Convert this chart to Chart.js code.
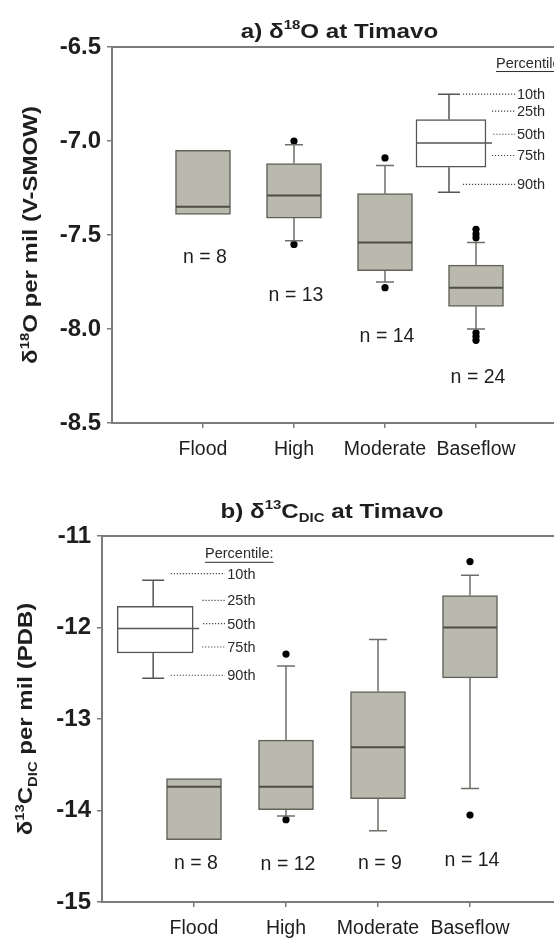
<!DOCTYPE html>
<html>
<head>
<meta charset="utf-8">
<script src="https://cdn.jsdelivr.net/npm/chart.js@4.4.0/dist/chart.umd.min.js"></script>
<style>
html, body { margin: 0; padding: 0; background: #fff; overflow: hidden; width: 554px; height: 938px; }
#wrapA { position: absolute; left: 0; top: 0; }
#wrapB { position: absolute; left: 0; top: 470px; }
</style>
</head>
<body>
<div id="wrapA"><canvas id="chartA" width="575" height="470"></canvas></div>
<div id="wrapB"><canvas id="chartB" width="575" height="468"></canvas></div>
<script>
var categories = ['Flood', 'High', 'Moderate', 'Baseflow'];

// a) d18O at Timavo (per mil V-SMOW)
var o18Q1     = [-7.39, -7.41, -7.69, -7.88];
var o18Q3     = [-7.05, -7.12, -7.28, -7.66];
var o18Median = [-7.35, -7.29, -7.54, -7.78];
var o18Low    = [null, -7.53, -7.75, -8.00];
var o18High   = [null, -7.02, -7.13, -7.54];
var o18OutX   = [2, 2, 3, 3, 4, 4, 4, 4, 4, 4];
var o18OutY   = [-7.00, -7.55, -7.09, -7.78, -7.47, -7.495, -7.515, -8.02, -8.04, -8.06];
var o18Count  = [8, 13, 14, 24];
var o18CountY = [-7.62, -7.82, -8.04, -8.26];
var o18Ticks  = [-8.5, -8.0, -7.5, -7.0, -6.5];

// b) d13C DIC at Timavo (per mil PDB)
var c13Q1     = [-14.32, -13.99, -13.87, -12.55];
var c13Q3     = [-13.65, -13.23, -12.70, -11.65];
var c13Median = [-13.74, -13.74, -13.31, -12.00];
var c13Low    = [null, -14.06, -14.22, -13.76];
var c13High   = [null, -12.42, -12.13, -11.43];
var c13OutX   = [2, 2, 4, 4];
var c13OutY   = [-12.29, -14.10, -11.28, -14.05];
var c13Count  = [8, 12, 9, 14];
var c13CountY = [-14.58, -14.59, -14.58, -14.55];
var c13Ticks  = [-15, -14, -13, -12, -11];

// percentile key
var keyLabels = ['10th', '25th', '50th', '75th', '90th'];
var keyA = { x: 3.725, q1: -7.139, q3: -6.886, med: -7.011, lo: -7.273, hi: -6.751,
    labelY: [-6.751, -6.841, -6.964, -7.077, -7.231], dotFrom: [3.857, 4.176, 4.19, 4.176, 3.857],
    dotTo: 4.43, textX: 4.45, headX: 4.22, headY: -6.588 };
var keyB = { x: 0.578, q1: -12.279, q3: -11.768, med: -12.012, lo: -12.555, hi: -11.484,
    labelY: [-11.411, -11.703, -11.957, -12.213, -12.522], dotFrom: [0.747, 1.092, 1.098, 1.088, 0.747],
    dotTo: 1.337, textX: 1.362, headX: 1.12, headY: -11.2 };

var FONT = '"Liberation Sans", Arial, sans-serif';
var AXIS = '#7c7c7c';
var TEXT = '#1e1e1e';

/**
 * draws text made of normal / sup / sub parts, centred on cx,cy
 */
function drawRich(ctx, parts, cx, cy, size, sx) {
    var i, w = 0;
    for (i = 0; i < parts.length; i++) {
        var s = parts[i].k ? size * 0.62 : size;
        ctx.font = 'bold ' + s + 'px ' + FONT;
        parts[i].w = ctx.measureText(parts[i].t).width;
        parts[i].s = s;
        w += parts[i].w;
    }
    ctx.save();
    ctx.translate(cx, cy);
    ctx.scale(sx, 1);
    ctx.textBaseline = 'alphabetic';
    ctx.textAlign = 'left';
    var x = -w / 2, base = size * 0.36;
    for (i = 0; i < parts.length; i++) {
        ctx.font = 'bold ' + parts[i].s + 'px ' + FONT;
        var dy = 0;
        if (parts[i].k == 'sup') dy = -size * 0.4;
        if (parts[i].k == 'sub') dy = size * 0.22;
        ctx.fillText(parts[i].t, x, base + dy);
        x += parts[i].w;
    }
    ctx.restore();
}

function whisker(ctx, x, from, to, cap) {
    ctx.beginPath();
    ctx.moveTo(x, from); ctx.lineTo(x, to);
    ctx.moveTo(x - cap / 2, to); ctx.lineTo(x + cap / 2, to);
    ctx.stroke();
}

var boxExtras = {
    id: 'boxExtras',
    afterDatasetsDraw: function(chart, args, o) {
        var ctx = chart.ctx, xs = chart.scales.x, ys = chart.scales.y, a = chart.chartArea;
        var X = function(v) { return xs.getPixelForValue(v); };
        var Y = function(v) { return ys.getPixelForValue(v); };
        ctx.save();
        // frame top and right
        ctx.strokeStyle = AXIS; ctx.lineWidth = 2;
        ctx.beginPath();
        ctx.moveTo(a.left, a.top); ctx.lineTo(a.right, a.top); ctx.lineTo(a.right, a.bottom);
        ctx.stroke();

        // whiskers + medians
        var i, x;
        for (i = 0; i < categories.length; i++) {
            x = X(i + 1);
            ctx.strokeStyle = '#6e6e68'; ctx.lineWidth = 1.5;
            if (o.hi[i] != null) whisker(ctx, x, Y(o.q3[i]), Y(o.hi[i]), 18);
            if (o.lo[i] != null) whisker(ctx, x, Y(o.q1[i]), Y(o.lo[i]), 18);
            ctx.strokeStyle = '#4d4d47'; ctx.lineWidth = 2;
            ctx.beginPath();
            ctx.moveTo(x - 27, Y(o.med[i])); ctx.lineTo(x + 27, Y(o.med[i]));
            ctx.stroke();
        }

        // key box whiskers + median
        var k = o.key;
        x = X(k.x);
        ctx.strokeStyle = '#555'; ctx.lineWidth = 1.5;
        whisker(ctx, x - 2, Y(k.q3), Y(k.hi), 22);
        whisker(ctx, x - 2, Y(k.q1), Y(k.lo), 22);
        ctx.beginPath();
        ctx.moveTo(x - o.keyW / 2, Y(k.med)); ctx.lineTo(x + o.keyW / 2 + 6, Y(k.med));
        ctx.stroke();

        // key labels
        ctx.font = '14.5px ' + FONT;
        ctx.fillStyle = '#2a2a2a';
        ctx.textBaseline = 'middle'; ctx.textAlign = 'left';
        ctx.strokeStyle = '#444'; ctx.lineWidth = 1.2;
        ctx.setLineDash([1.2, 1.8]);
        for (i = 0; i < keyLabels.length; i++) {
            var ly = Y(k.labelY[i]);
            ctx.beginPath();
            ctx.moveTo(X(k.dotFrom[i]), ly); ctx.lineTo(X(k.dotTo), ly);
            ctx.stroke();
            ctx.fillText(keyLabels[i], X(k.textX), ly + 1);
        }
        ctx.setLineDash([]);
        var hx = X(k.headX), hy = Y(k.headY);
        ctx.fillText('Percentile:', hx, hy);
        var hw = ctx.measureText('Percentile:').width;
        ctx.lineWidth = 1; ctx.strokeStyle = '#2a2a2a';
        ctx.beginPath(); ctx.moveTo(hx, hy + 8); ctx.lineTo(hx + hw, hy + 8); ctx.stroke();

        // sample counts
        ctx.font = '19.5px ' + FONT;
        ctx.fillStyle = TEXT; ctx.textAlign = 'center';
        for (i = 0; i < categories.length; i++) {
            ctx.fillText('n = ' + o.count[i], X(i + 1) + 2, Y(o.countY[i]));
        }

        // titles
        ctx.fillStyle = TEXT;
        drawRich(ctx, o.title, (a.left + a.right) / 2, o.titleY, 21, 1.15);
        ctx.save();
        ctx.translate(o.yTitleX, (a.top + a.bottom) / 2);
        ctx.rotate(-Math.PI / 2);
        drawRich(ctx, o.yTitle, 0, 0, 20, 1.2);
        ctx.restore();
        ctx.restore();
    }
};

function makeChart(id, d) {
    var boxes = categories.map(function(c, i) { return { x: i + 1, y: [d.q1[i], d.q3[i]] }; });
    var outs = d.outX.map(function(v, i) { return { x: v, y: d.outY[i] }; });
    return new Chart(document.getElementById(id), {
        type: 'bar',
        data: {
            datasets: [
                { data: boxes, backgroundColor: '#b9b9ad', borderColor: '#62625b', borderWidth: 1.5,
                  borderSkipped: false, barThickness: 55, grouped: false },
                { data: [{ x: d.key.x, y: [d.key.q1, d.key.q3] }], backgroundColor: '#ffffff', borderColor: '#555',
                  borderWidth: 1.5, borderSkipped: false, barThickness: d.keyW, grouped: false },
                { type: 'scatter', data: outs, backgroundColor: '#000', borderWidth: 0, pointRadius: 3.6 }
            ]
        },
        options: {
            responsive: false,
            animation: false,
            devicePixelRatio: 1,
            layout: { padding: { top: d.padTop, right: d.padRight, left: 0, bottom: 0 } },
            plugins: {
                legend: { display: false },
                tooltip: { enabled: false },
                boxExtras: {
                    q1: d.q1, q3: d.q3, med: d.med, lo: d.lo, hi: d.hi, key: d.key, keyW: d.keyW,
                    count: d.count, countY: d.countY, title: d.title, titleY: d.titleY,
                    yTitle: d.yTitle, yTitleX: d.yTitleX
                }
            },
            scales: {
                x: {
                    type: 'linear', min: 0, max: 5, offset: false,
                    afterBuildTicks: function(s) { s.ticks = [1, 2, 3, 4].map(function(v) { return { value: v }; }); },
                    afterFit: function(s) { s.height = d.xHeight; },
                    grid: { display: true, drawOnChartArea: false, tickLength: 5, color: AXIS, lineWidth: 1.5, offset: false },
                    border: { color: AXIS, width: 2 },
                    ticks: {
                        padding: 10, color: TEXT, maxRotation: 0, autoSkip: false,
                        font: { family: FONT, size: 19.5 },
                        callback: function(v) { return categories[v - 1] || ''; }
                    }
                },
                y: {
                    min: d.yMin, max: d.yMax,
                    afterBuildTicks: function(s) { s.ticks = d.ticks.map(function(v) { return { value: v }; }); },
                    afterFit: function(s) { s.width = d.yWidth; },
                    grid: { display: true, drawOnChartArea: false, tickLength: 5, color: AXIS, lineWidth: 1.5 },
                    border: { color: AXIS, width: 2 },
                    ticks: {
                        padding: 6, color: TEXT,
                        font: { family: FONT, size: 24, weight: 'bold' },
                        callback: function(v) { return d.fmt(v); }
                    }
                }
            }
        },
        plugins: [boxExtras]
    });
}

makeChart('chartA', {
    q1: o18Q1, q3: o18Q3, med: o18Median, lo: o18Low, hi: o18High,
    outX: o18OutX, outY: o18OutY, count: o18Count, countY: o18CountY, ticks: o18Ticks,
    key: keyA, keyW: 70, yMin: -8.5, yMax: -6.5,
    fmt: function(v) { return v.toFixed(1); },
    padTop: 47, padRight: 8, xHeight: 47, yWidth: 112,
    title: [{ t: 'a) \u03b4' }, { t: '18', k: 'sup' }, { t: 'O at Timavo' }], titleY: 30,
    yTitle: [{ t: '\u03b4' }, { t: '18', k: 'sup' }, { t: 'O per mil (V-SMOW)' }], yTitleX: 30
});

makeChart('chartB', {
    q1: c13Q1, q3: c13Q3, med: c13Median, lo: c13Low, hi: c13High,
    outX: c13OutX, outY: c13OutY, count: c13Count, countY: c13CountY, ticks: c13Ticks,
    key: keyB, keyW: 76, yMin: -15, yMax: -11,
    fmt: function(v) { return String(v); },
    padTop: 66, padRight: 13, xHeight: 36, yWidth: 102,
    title: [{ t: 'b) \u03b4' }, { t: '13', k: 'sup' }, { t: 'C' }, { t: 'DIC', k: 'sub' }, { t: ' at Timavo' }], titleY: 40,
    yTitle: [{ t: '\u03b4' }, { t: '13', k: 'sup' }, { t: 'C' }, { t: 'DIC', k: 'sub' }, { t: ' per mil (PDB)' }], yTitleX: 25
});
</script>
</body>
</html>
